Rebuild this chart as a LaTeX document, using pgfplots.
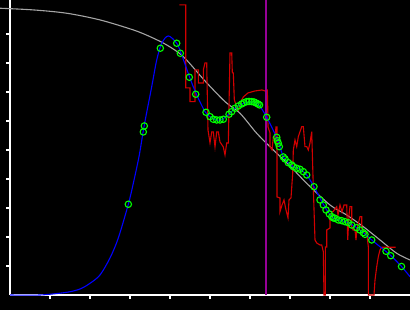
\documentclass[border=0pt]{standalone}
\usepackage{pgfplots}
\pgfplotsset{compat=1.18}
\definecolor{redl}{RGB}{210,0,0}
\definecolor{grayl}{RGB}{165,165,165}
\definecolor{purp}{RGB}{150,0,150}
\definecolor{greenl}{RGB}{0,255,0}
\begin{document}
\begin{tikzpicture}
\fill[black] (0,0) rectangle (410pt,310pt);
\begin{axis}[
  at={(10pt,15pt)}, anchor=south west,
  scale only axis, width=400pt, height=295pt,
  xmin=0, xmax=10, ymin=0, ymax=10.17,
  clip=false,
  axis x line*=bottom, axis y line*=left,
  axis line style={white, line width=1.2pt},
  xtick={1,2,3,4,5,6,7,8,9}, ytick={1,2,3,4,5,6,7,8,9},
  xticklabels={}, yticklabels={},
  tick align=outside, major tick length=4pt,
  tick style={white, line width=1.2pt},
]
% gray curve
\addplot[grayl, line width=1.1pt, smooth] coordinates {
(-0.25,9.886) (0.583,9.828) (1.417,9.714) (2.25,9.483) (3.083,9.138) (3.5,8.907)
(3.917,8.621) (4.333,8.217) (4.875,7.379) (5.375,6.666) (5.75,6.266) (6.167,5.576)
(6.583,5.0) (7.0,4.448) (7.417,3.852) (8.0,3.103) (8.417,2.759) (8.833,2.355)
(9.25,1.897) (9.667,1.438) (10.0,1.207)
};
% red step line
\addplot[redl, line width=1.1pt] coordinates {
(4.233,10.0) (4.393,10.0) (4.393,7.138) (4.5,7.138) (4.5,6.666) (4.625,6.666)
(4.625,7.759) (4.708,7.759) (4.708,7.310) (4.833,7.310) (4.833,7.759) (4.875,8.0)
(4.918,8.0) (4.925,7.414) (4.95,5.690) (5.0,5.241) (5.043,5.621) (5.083,5.621)
(5.125,5.103) (5.168,5.621) (5.208,5.621) (5.25,5.276) (5.333,5.103) (5.375,4.828)
(5.418,5.241) (5.458,5.241) (5.5,8.345) (5.543,8.345) (5.558,7.655) (5.583,7.655)
(5.608,6.724) (5.668,6.483) (5.708,6.379) (5.75,6.483) (5.793,6.724) (5.833,6.828)
(5.95,6.966) (6.125,7.034) (6.3,7.069) (6.375,7.034) (6.418,7.069) (6.433,7.069)
(6.443,6.483) (6.45,5.793) (6.5,5.586) (6.5,5.103) (6.55,5.0) (6.583,5.448)
(6.625,5.448) (6.65,5.793) (6.675,5.793) (6.675,3.379) (6.75,3.345) (6.75,2.872)
(6.8,3.103) (6.85,3.276) (6.9,2.931) (6.95,2.655) (6.975,3.276) (7.025,3.345)
(7.068,4.207) (7.083,5.0) (7.125,5.345) (7.168,5.114) (7.208,5.459) (7.293,5.803)
(7.333,5.803) (7.375,5.114) (7.418,5.114) (7.458,5.0) (7.5,5.241) (7.543,5.631)
(7.558,4.897) (7.583,3.690) (7.625,1.897) (7.668,1.793) (7.75,1.724) (7.793,1.724)
(7.833,1.493) (7.85,0) (7.883,0) (7.883,1.655) (7.918,1.655) (7.918,2.241)
(8.0,2.310) (8.0,2.586) (8.043,2.872) (8.075,2.872) (8.168,3.045) (8.2,2.759)
(8.25,3.103) (8.3,2.862) (8.35,3.103) (8.418,3.103) (8.443,1.897) (8.475,2.759)
(8.5,3.045) (8.543,3.045) (8.543,2.355) (8.575,2.241) (8.625,2.241) (8.65,1.897)
(8.675,2.310) (8.7,2.414) (8.75,2.700) (8.793,2.700) (8.793,2.310) (8.825,2.241)
(8.875,2.172) (8.918,2.138) (8.958,1.666) (8.958,0) (9.1,0) (9.125,0.517)
(9.168,0.976) (9.208,1.321) (9.25,1.552) (9.293,1.645) (9.643,1.645)
};
% purple vertical line
\addplot[purp, line width=1.1pt] coordinates {(6.4,0) (6.4,10.17)};
% blue curve
\addplot[blue, line width=1.1pt, smooth] coordinates {
(0,0) (0.75,0) (1.418,0.093) (1.75,0.207) (2.0,0.403) (2.25,0.690) (2.5,1.276)
(2.708,1.966) (2.958,3.128) (3.083,3.852) (3.233,4.828) (3.35,5.803) (3.543,7.183)
(3.668,8.103) (3.793,8.679) (3.958,8.931) (4.168,8.679) (4.293,8.276) (4.5,7.472)
(4.668,6.897) (4.875,6.321) (5.0,6.148) (5.15,6.034) (5.3,6.052) (5.45,6.207)
(5.625,6.438) (5.8,6.586) (6.0,6.655) (6.2,6.586) (6.418,6.128) (6.668,5.414)
(6.833,4.769) (6.958,4.562) (7.083,4.424) (7.25,4.334) (7.418,4.138) (7.6,3.734)
(7.775,3.276) (7.918,2.931) (8.083,2.655) (8.293,2.562) (8.458,2.493) (8.668,2.321)
(8.875,2.103) (9.043,1.897) (9.4,1.5) (9.518,1.362) (9.788,0.983) (10.0,0.631)
};
% green circles
\addplot[only marks, mark=o, mark size=3.2pt, greenl, mark options={line width=1.1pt}] coordinates {
(2.958,3.128) (3.333,5.621) (3.358,5.828) (3.758,8.507) (4.168,8.679) (4.258,8.334)
(4.483,7.507) (4.643,6.921) (4.9,6.3) (5.0,6.148) (5.083,6.059) (5.168,6.034)
(5.25,6.034) (5.333,6.059) (5.475,6.231) (5.543,6.321) (5.625,6.438) (5.708,6.517)
(5.793,6.586) (5.85,6.631) (5.918,6.666) (5.975,6.672) (6.043,6.666) (6.1,6.655)
(6.15,6.621) (6.2,6.586) (6.238,6.552) (6.418,6.128) (6.668,5.438) (6.683,5.321)
(6.708,5.231) (6.733,5.114) (6.833,4.759) (6.875,4.690) (6.958,4.562) (7.043,4.483)
(7.083,4.424) (7.168,4.369) (7.25,4.334) (7.333,4.252) (7.418,4.138) (7.6,3.734)
(7.75,3.276) (7.833,3.103) (7.9,2.931) (7.983,2.793) (8.043,2.7) (8.083,2.655)
(8.125,2.645) (8.208,2.586) (8.293,2.562) (8.375,2.528) (8.458,2.493) (8.543,2.414)
(8.668,2.321) (8.75,2.241) (8.833,2.148) (8.875,2.093) (9.043,1.897) (9.4,1.507)
(9.518,1.355) (9.788,0.983)
};
\end{axis}
\pgfresetboundingbox
\useasboundingbox (0,0) rectangle (410pt,310pt);
\end{tikzpicture}
\end{document}
